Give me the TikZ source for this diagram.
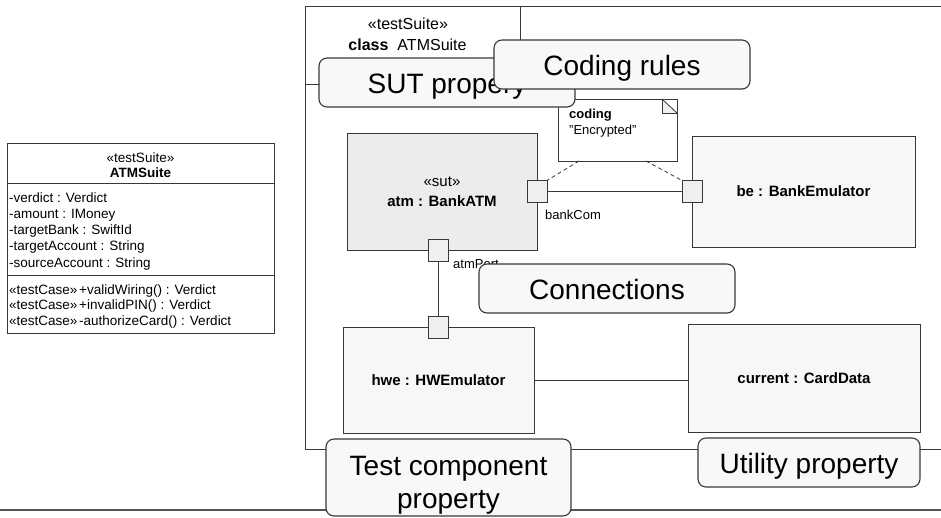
\documentclass[tikz,border=0pt]{standalone}
\usepackage{fontspec}
\setmainfont{Liberation Sans}
\definecolor{ink}{HTML}{383838}
\definecolor{partfill}{HTML}{F7F7F7}
\definecolor{sutfill}{HTML}{ECECEC}
\definecolor{portfill}{HTML}{EFEFEF}
\definecolor{callfill}{HTML}{F8F8F8}
\definecolor{basegray}{HTML}{555555}
\newcommand\fs[2]{\fontsize{#1}{#2}\selectfont}
\begin{document}
\begin{tikzpicture}[x=1pt,y=-1pt,
  box/.style={draw=ink, line width=0.9pt, inner sep=0pt, outer sep=0pt},
  part/.style={box, fill=partfill, align=center, font=\fs{15}{20}\bfseries},
  port/.style={box, fill=portfill, minimum width=20pt, minimum height=22pt},
  callout/.style={draw=ink, line width=1.1pt, rounded corners=8pt, fill=callfill,
    inner sep=0pt, outer sep=0pt, align=center, font=\fs{28}{33},
    text height=21pt, text depth=0pt},
  calltext/.style={inner sep=0pt, font=\fs{28}{33}},
  lbl/.style={inner sep=0pt, font=\fs{13}{15}},
  cls/.style={inner sep=0pt, font=\fs{13.5}{16}},
  conn/.style={draw=ink, line width=0.9pt},
  trace/.style={draw=ink, line width=0.8pt, dash pattern=on 4pt off 3pt}
]
\useasboundingbox (0,0) rectangle (941,517);
\clip (0,0) rectangle (941,517);

% ---- class ATMSuite (classifier box) ----
\node[box, fill=white, minimum width=267pt, minimum height=190pt] (suite) at (140.5,238) {};
\draw[conn] (suite.west |- 0,183) -- (suite.east |- 0,183);
\draw[conn] (suite.west |- 0,275) -- (suite.east |- 0,275);
\node[cls] (suiteStereo) at (140.5,158) {«testSuite»};
\node[cls, font=\fs{13.5}{16}\bfseries] (suiteName) at (140.5,173) {ATMSuite};
\foreach \t [count=\i] in {-verdict : Verdict, -amount : IMoney, -targetBank : SwiftId,
    -targetAccount : String, -sourceAccount : String}
  \node[cls, anchor=base west] (attr\i) at (9,185.75+16.25*\i) {\t};
\foreach \t [count=\i] in {+validWiring() : Verdict, +invalidPIN() : Verdict,
    -authorizeCard() : Verdict} {
  \node[cls, anchor=base west] (opst\i) at (9,278.25+15.75*\i) {«testCase»};
  \node[cls, anchor=base west] (op\i) at (79,278.25+15.75*\i) {\t};
}

% ---- composite structure frame ----
\node[box, minimum width=660pt, minimum height=443pt, anchor=north west] (frame) at (305,6) {};
\draw[conn] ([xshift=215pt]frame.north west) |- ([yshift=-78pt]frame.north west);
\node[inner sep=0pt, font=\fs{16}{19}] (frameStereo) at (408,24) {«testSuite»};
\node[inner sep=0pt, font=\fs{16}{19}] (frameName) at (407.5,45) {\textbf{class}\hspace{9pt}ATMSuite};

% ---- base line ----
\coordinate (baseL) at (0,510);
\coordinate (baseR) at (941,510);
\draw[line width=2pt, basegray] (baseL) -- (baseR);

% ---- parts ----
\node[part, fill=sutfill, minimum width=190pt, minimum height=117pt] (atm) at (442,191.5)
  {{\mdseries «sut»}\\atm : BankATM};
\node[part, minimum width=223pt, minimum height=111pt] (be) at (803.5,191.5) {be : BankEmulator};
\node[part, minimum width=191pt, minimum height=106pt] (hwe) at (438.5,380) {hwe : HWEmulator};
\node[part, minimum width=232pt, minimum height=108pt] (current) at (804,378) {current : CardData};

% ---- ports ----
\node[port] (bankCom) at (atm.east) {};
\node[port] (bePort) at (be.west) {};
\node[port] (atmPort) at ([xshift=-3.5pt]atm.south) {};
\node[port] (hwePort) at (hwe.north) {};

% ---- connectors ----
\draw[conn] (bankCom.east) -- (bePort.west);
\draw[conn] (atmPort.south) -- (hwePort.north);
\draw[conn] (hwe.east) -- (hwe.east -| current.west);

\node[lbl, anchor=base west] (bankComLbl) at (545,219.7) {bankCom};
\node[lbl, anchor=base west] (atmPortLbl) at (453,268.5) {atmPort};

% ---- comment note ----
\node[box, fill=white, minimum width=119pt, minimum height=62pt] (note) at (617.5,130) {};
\fill[portfill] ([xshift=-15pt]note.north east) -- ++(0,14) -- ++(15,0) -- cycle;
\draw[conn, line width=0.8pt] ([xshift=-15pt]note.north east) -- ++(0,14) -- ++(15,0);
\draw[conn, line width=0.8pt] ([xshift=-15pt]note.north east) -- ([yshift=-14pt]note.north east);
\node[lbl, anchor=base west, font=\fs{13}{15}\bfseries] (noteName) at (569,118.7) {coding};
\node[lbl, anchor=base west] (noteValue) at (569,134.7) {"Encrypted"};
\draw[trace] ([xshift=21pt]note.south west) -- (bankCom.north east);
\draw[trace] ([xshift=88pt]note.south west) -- (bePort.north west);

% ---- callouts ----
\node[callout, minimum width=256pt, minimum height=49pt] (connNote) at (607,288.5) {Connections};
\node[callout, minimum width=245pt, minimum height=77pt] (testNote) at (448.5,477.5) {};
\node[calltext, anchor=base] (testText1) at (448.5,475) {Test component};
\node[calltext, anchor=base] (testText2) at (448.5,508) {property};
\node[callout, minimum width=222pt, minimum height=49pt] (utilNote) at (809,462.5) {Utility property};
\node[callout, minimum width=256pt, minimum height=49pt] (sutNote) at (447,82.5) {SUT propery};
\node[callout, minimum width=256pt, minimum height=49pt] (codingNote) at (622,64.5) {Coding rules};
\end{tikzpicture}
\end{document}
